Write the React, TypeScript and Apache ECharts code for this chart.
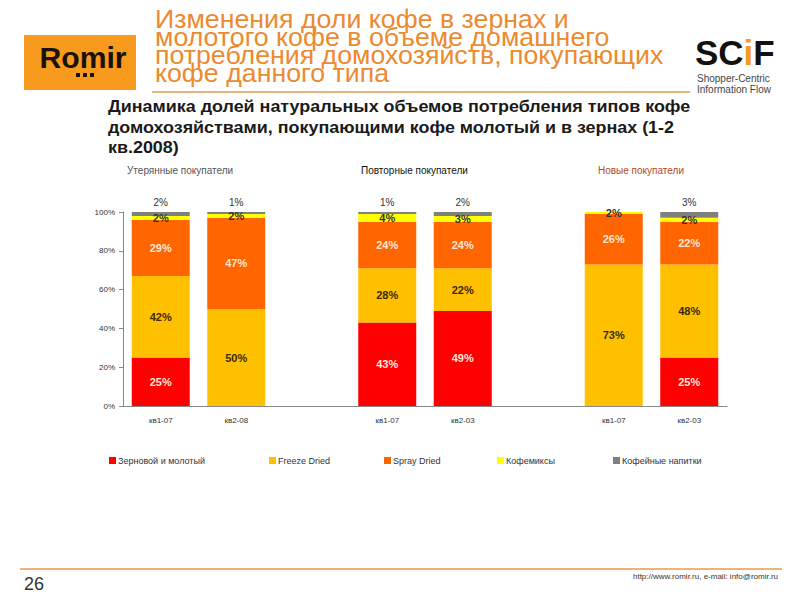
import React, { useEffect, useRef } from "react";
import * as echarts from "echarts";

const categories = ["кв1-07", "кв2-08", "", "кв1-07", "кв2-03", "", "кв1-07", "кв2-03"];
const grainGround = [25, null, null, 43, 49, null, null, 25];
const freezeDried = [42, 50, null, 28, 22, null, 73, 48];
const sprayDried = [29, 47, null, 24, 24, null, 26, 22];
const coffeeMixes = [2, 2, null, 4, 3, null, 2, 2];
const coffeeDrinks = [2, 1, null, 1, 2, null, null, 3];
const yTicks = [0, 20, 40, 60, 80, 100];

const seriesNames = ["Зерновой и молотый", "Freeze Dried", "Spray Dried", "Кофемиксы", "Кофейные напитки"];
const seriesColors = ["#FF0000", "#FFC000", "#FF6600", "#FFFF00", "#808080"];
const groupTitles = ["Утерянные покупатели", "Повторные покупатели", "Новые покупатели"];
const titleLines = [
  "Изменения доли кофе в зернах и",
  "молотого кофе в объеме домашнего",
  "потребления домохозяйств, покупающих",
  "кофе данного типа",
];
const subtitleLines = [
  "Динамика долей натуральных объемов потребления типов кофе",
  "домохозяйствами, покупающими кофе молотый и в зернах (1-2",
  "кв.2008)",
];
const scifTagline = ["Shopper-Centric", "Information Flow"];

export default function App() {
  const ref = useRef<HTMLDivElement>(null);
  useEffect(() => {
    document.body.style.margin = "0";
    const chart = echarts.init(ref.current!, null, { renderer: "svg" });
    const font = "Liberation Sans, Arial, sans-serif";
    const fmt = (p: any) => (p.value ? p.value + "%" : "");
    const data = [grainGround, freezeDried, sprayDried, coffeeMixes, coffeeDrinks];
    const labelColors = ["#FFE6D6", "#3A2A00", "#FFE6D6", "#333333", "#333333"];
    const legendLeft = [104, 264, 379, 492, 608];
    const series = seriesNames.map((name, i) => ({
      name,
      type: "bar",
      stack: "total",
      barWidth: 58,
      data: data[i],
      itemStyle: { color: seriesColors[i] },
      label: {
        show: true,
        position: i === 4 ? "top" : "inside",
        distance: 5,
        formatter: fmt,
        color: labelColors[i],
        fontSize: i === 4 ? 10 : 11,
        fontWeight: i === 4 ? "normal" : "bold",
        fontFamily: font,
      },
    }));
    const titleColors = ["#555555", "#111111", "#B8471C"];
    const titleX = [127, 361, 598];
    const option: any = {
      animation: false,
      backgroundColor: "#ffffff",
      textStyle: { fontFamily: font },
      grid: { left: 123, right: 73, top: 212, bottom: 194 },
      xAxis: {
        type: "category",
        data: categories,
        axisLine: { lineStyle: { color: "#888888" } },
        axisTick: {
          length: 4,
          lineStyle: { color: "#888888" },
          interval: (i: number) => [1, 2, 6, 7].includes(i),
        },
        axisLabel: { fontSize: 8, color: "#333333", margin: 10 },
      },
      yAxis: {
        type: "value",
        min: yTicks[0],
        max: yTicks[yTicks.length - 1],
        interval: 20,
        axisLine: { show: true, lineStyle: { color: "#888888" } },
        axisTick: { show: true, length: 4, lineStyle: { color: "#888888" } },
        axisLabel: { formatter: "{value}%", fontSize: 8, color: "#333333", margin: 8 },
        splitLine: { show: false },
      },
      legend: seriesNames.map((n, i) => ({
        data: [n],
        left: legendLeft[i],
        top: 451,
        itemWidth: 7,
        itemHeight: 7,
        icon: "rect",
        textStyle: { fontSize: 9, color: "#333333", padding: [0, 0, 0, -3] },
      })),
      series,
      graphic: [
        { type: "rect", shape: { x: 24, y: 35, width: 112, height: 55 }, style: { fill: "#F89A1E" } },
        {
          type: "text",
          x: 83,
          y: 58,
          scaleX: 1.04,
          style: { x: 0, y: 0, text: "Romir", font: "bold 29px " + font, fill: "#1A1208", align: "center", verticalAlign: "middle" },
        },
        ...[76, 83, 90].map((x) => ({ type: "rect", shape: { x, y: 73, width: 4, height: 4 }, style: { fill: "#1A1208" } })),
        {
          type: "text",
          x: 155,
          y: 10,
          scaleX: 1.07,
          style: {
            x: 0,
            y: 0,
            text: titleLines.join("\n"),
            font: "25px " + font,
            lineHeight: 18,
            fill: "#EC8A2F",
            verticalAlign: "top",
          },
        },
        { type: "rect", shape: { x: 152, y: 91, width: 538, height: 2 }, style: { fill: "#EDB37E" } },
        {
          type: "text",
          style: {
            x: 695,
            y: 52,
            text: "{a|SC}{b|i}{a|F}",
            verticalAlign: "middle",
            rich: {
              a: { font: "bold 35px " + font, fill: "#111111" },
              b: { font: "bold 35px " + font, fill: "#F39C1F" },
            },
          },
        },
        {
          type: "text",
          style: {
            x: 697,
            y: 73,
            text: scifTagline.join("\n"),
            font: "10px " + font,
            lineHeight: 11,
            fill: "#444444",
            verticalAlign: "top",
          },
        },
        {
          type: "text",
          x: 108,
          y: 97,
          scaleX: 1.12,
          style: {
            x: 0,
            y: 0,
            text: subtitleLines.join("\n"),
            font: "bold 16px " + font,
            lineHeight: 20.5,
            fill: "#1A1A1A",
            verticalAlign: "top",
          },
        },
        ...groupTitles.map((t, i) => ({
          type: "text",
          style: { x: titleX[i], y: 170, text: t, font: "10px " + font, fill: titleColors[i], verticalAlign: "middle" },
        })),
        { type: "rect", shape: { x: 20, y: 568, width: 762, height: 2 }, style: { fill: "#EDB37E" } },
        { type: "text", style: { x: 24, y: 584, text: "26", font: "18px " + font, fill: "#333333", verticalAlign: "middle" } },
        {
          type: "text",
          style: { x: 778, y: 576, text: "http://www.romir.ru, e-mail: info@romir.ru", font: "8px " + font, fill: "#333333", align: "right", verticalAlign: "middle" },
        },
      ],
    };
    chart.setOption(option);
    return () => chart.dispose();
  }, []);
  return <div ref={ref} style={{ position: "absolute", left: 0, top: 0, width: 800, height: 600 }} />;
}
